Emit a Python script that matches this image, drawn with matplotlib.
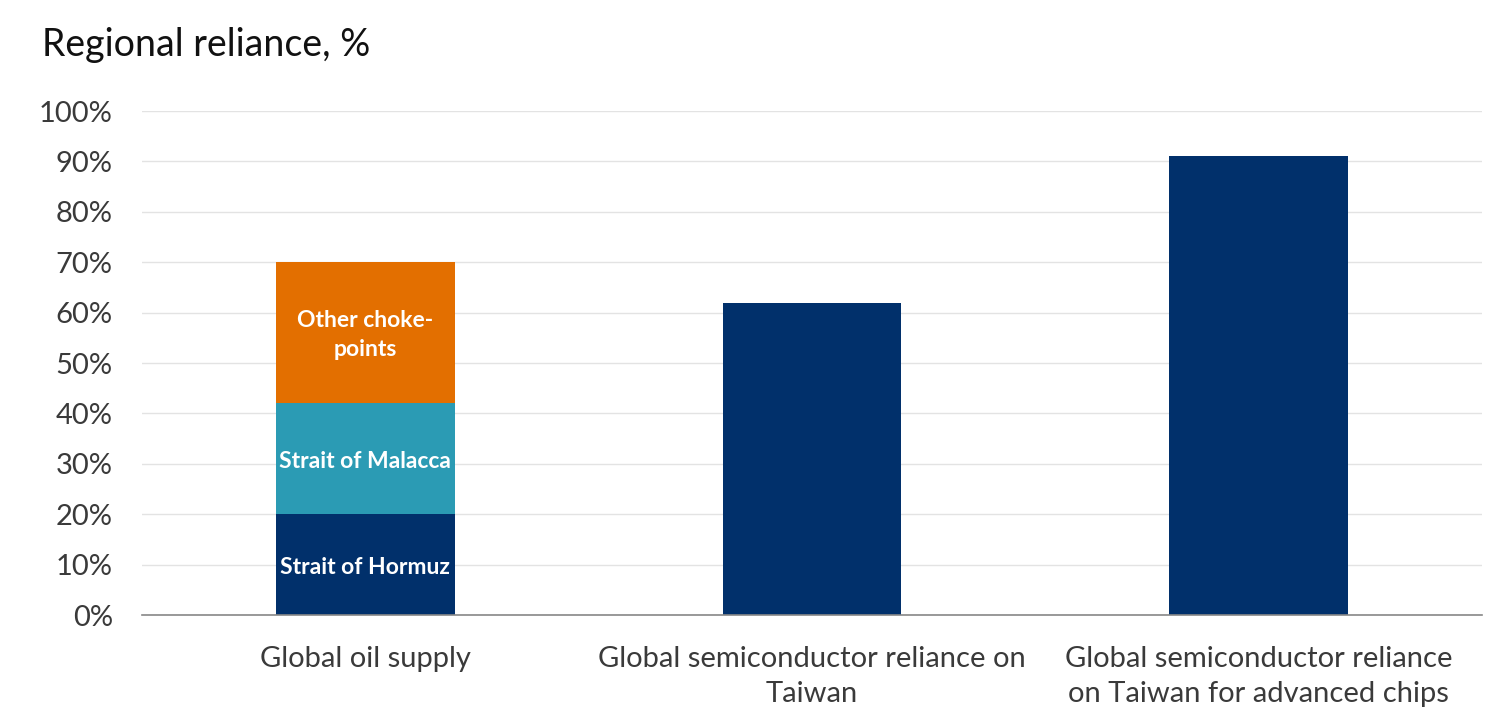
import matplotlib
matplotlib.use("Agg")
import matplotlib.pyplot as plt
from matplotlib.ticker import FuncFormatter

categories = ["Global oil supply", "Global semiconductor reliance on\nTaiwan",
              "Global semiconductor reliance\non Taiwan for advanced chips"]
oil_segments = ["Strait of Hormuz", "Strait of Malacca", "Other choke-\npoints"]
oil_values = [20, 22, 28]
semi_values = [62, 91]
yticks = list(range(0, 101, 10))

NAVY = "#01306B"
TEAL = "#2B9BB4"
ORANGE = "#E36F00"
seg_colors = [NAVY, TEAL, ORANGE]

plt.rcParams["font.family"] = ["Lato", "DejaVu Sans"]

fig = plt.figure(figsize=(15.04, 7.2), dpi=100)
ax = fig.add_axes([142/1504, 1-615/720, (1482-142)/1504, (615-111)/720])

width = 0.40
bottom = 0
for lab, val, col in zip(oil_segments, oil_values, seg_colors):
    ax.bar(0, val, width=width, bottom=bottom, color=col, zorder=3)
    ax.text(0, bottom + val/2 - 0.5, lab, ha="center", va="center", color="white",
            fontsize=16.5, fontweight="bold", linespacing=1.45, zorder=4)
    bottom += val

ax.bar([1, 2], semi_values, width=width, color=NAVY, zorder=3)

ax.set_xlim(-0.5, 2.5)
ax.set_ylim(0, 100)
ax.set_yticks(yticks)
ax.yaxis.set_major_formatter(FuncFormatter(lambda v, p: f"{int(v)}%"))
ax.set_xticks([0, 1, 2])
ax.set_xticklabels(categories, fontsize=21, color="#3a3a3a", linespacing=1.45)
ax.tick_params(axis="y", labelsize=21, labelcolor="#3a3a3a", length=0, pad=21)
ax.tick_params(axis="x", length=0, pad=22)
for lbl in ax.get_yticklabels():
    lbl.set_horizontalalignment("right")

ax.grid(axis="y", color="#E3E3E3", linewidth=1, zorder=0)
for s in ["top", "right", "left"]:
    ax.spines[s].set_visible(False)
ax.spines["bottom"].set_color("#888888")
ax.spines["bottom"].set_linewidth(1.2)
ax.spines["bottom"].set_zorder(5)

fig.text(42/1504, 1-45/720, "Regional reliance, %", fontsize=27, color="#111111",
         ha="left", va="center")

fig.savefig("out.png", dpi=100, facecolor="white")
